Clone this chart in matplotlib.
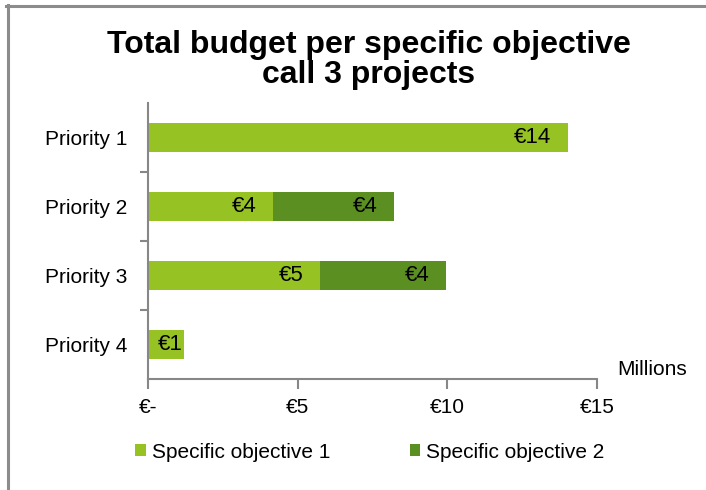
import matplotlib.pyplot as plt
from matplotlib.lines import Line2D

# data (millions of euro)
priorities = ['Priority 1', 'Priority 2', 'Priority 3', 'Priority 4']
obj1 = [14.02, 4.19, 5.76, 1.2]
obj2 = [0, 4.04, 4.2, 0]
labels1 = ['€14', '€4', '€5', '€1']
labels2 = ['', '€4', '€4', '']
xticks = [0, 5, 10, 15]
xticklabels = ['€-', '€5', '€10', '€15']
series_names = ['Specific objective 1', 'Specific objective 2']

light = '#97C224'
dark = '#5B8F22'
grey = '#878787'

plt.rcParams['font.family'] = ['Liberation Sans', 'DejaVu Sans']

fig = plt.figure(figsize=(7.06, 4.9), dpi=100)
ax = fig.add_axes([148 / 706, 1 - 379 / 490, (597 - 148) / 706, (379 - 103) / 490])

ypos = list(range(len(priorities)))
b1 = ax.barh(ypos, obj1, height=0.41, color=light, label=series_names[0])
b2 = ax.barh(ypos, obj2, left=obj1, height=0.41, color=dark, label=series_names[1])

# data labels at inside end
for i in ypos:
    if obj1[i] < 2:
        ax.annotate(labels1[i], (obj1[i] / 2, i), xytext=(3, 0), textcoords='offset points',
                    ha='center', va='center', fontsize=16)
    else:
        ax.annotate(labels1[i], (obj1[i], i), xytext=(-12, 0), textcoords='offset points',
                    ha='right', va='center', fontsize=16)
    if labels2[i]:
        ax.annotate(labels2[i], (obj1[i] + obj2[i], i), xytext=(-12, 0), textcoords='offset points',
                    ha='right', va='center', fontsize=16)

ax.set_xlim(0, 15)
ax.set_ylim(3.5, -0.5)
ax.set_xticks(xticks)
ax.set_xticklabels(xticklabels, fontsize=15)
ax.set_yticks(ypos)
ax.set_yticklabels(priorities, fontsize=15)
ax.set_yticks([0.5, 1.5, 2.5], minor=True)
ax.tick_params(axis='y', which='major', length=0, pad=15)
ax.tick_params(axis='y', which='minor', length=6, color=grey, width=1.5)
ax.tick_params(axis='x', length=7, color=grey, width=1.5, pad=7)

for s in ['top', 'right']:
    ax.spines[s].set_visible(False)
for s in ['left', 'bottom']:
    ax.spines[s].set_color(grey)
    ax.spines[s].set_linewidth(1.5)

fig.text(687 / 706, 1 - 375 / 490, 'Millions', ha='right', va='baseline', fontsize=15)

fig.text(369 / 706, 1 - 30 / 490, 'Total budget per specific objective\ncall 3 projects',
         ha='center', va='top', fontsize=23, fontweight='bold', linespacing=1.0)

fig.legend(handles=[b1, b2], loc='center', bbox_to_anchor=(370 / 706, 1 - 452 / 490), ncol=2,
           frameon=False, fontsize=15, handlelength=0.5, handleheight=0.5,
           handletextpad=0.3, columnspacing=3.8)

# chart frame (left and top edges visible)
fig.add_artist(Line2D([7.5 / 706, 7.5 / 706], [0, 1 - 5 / 490], transform=fig.transFigure,
                      color='#8c8c8c', linewidth=2.2))
fig.add_artist(Line2D([6 / 706, 1], [1 - 6.5 / 490, 1 - 6.5 / 490], transform=fig.transFigure,
                      color='#8c8c8c', linewidth=2.2))

fig.savefig('out.png', dpi=100)
